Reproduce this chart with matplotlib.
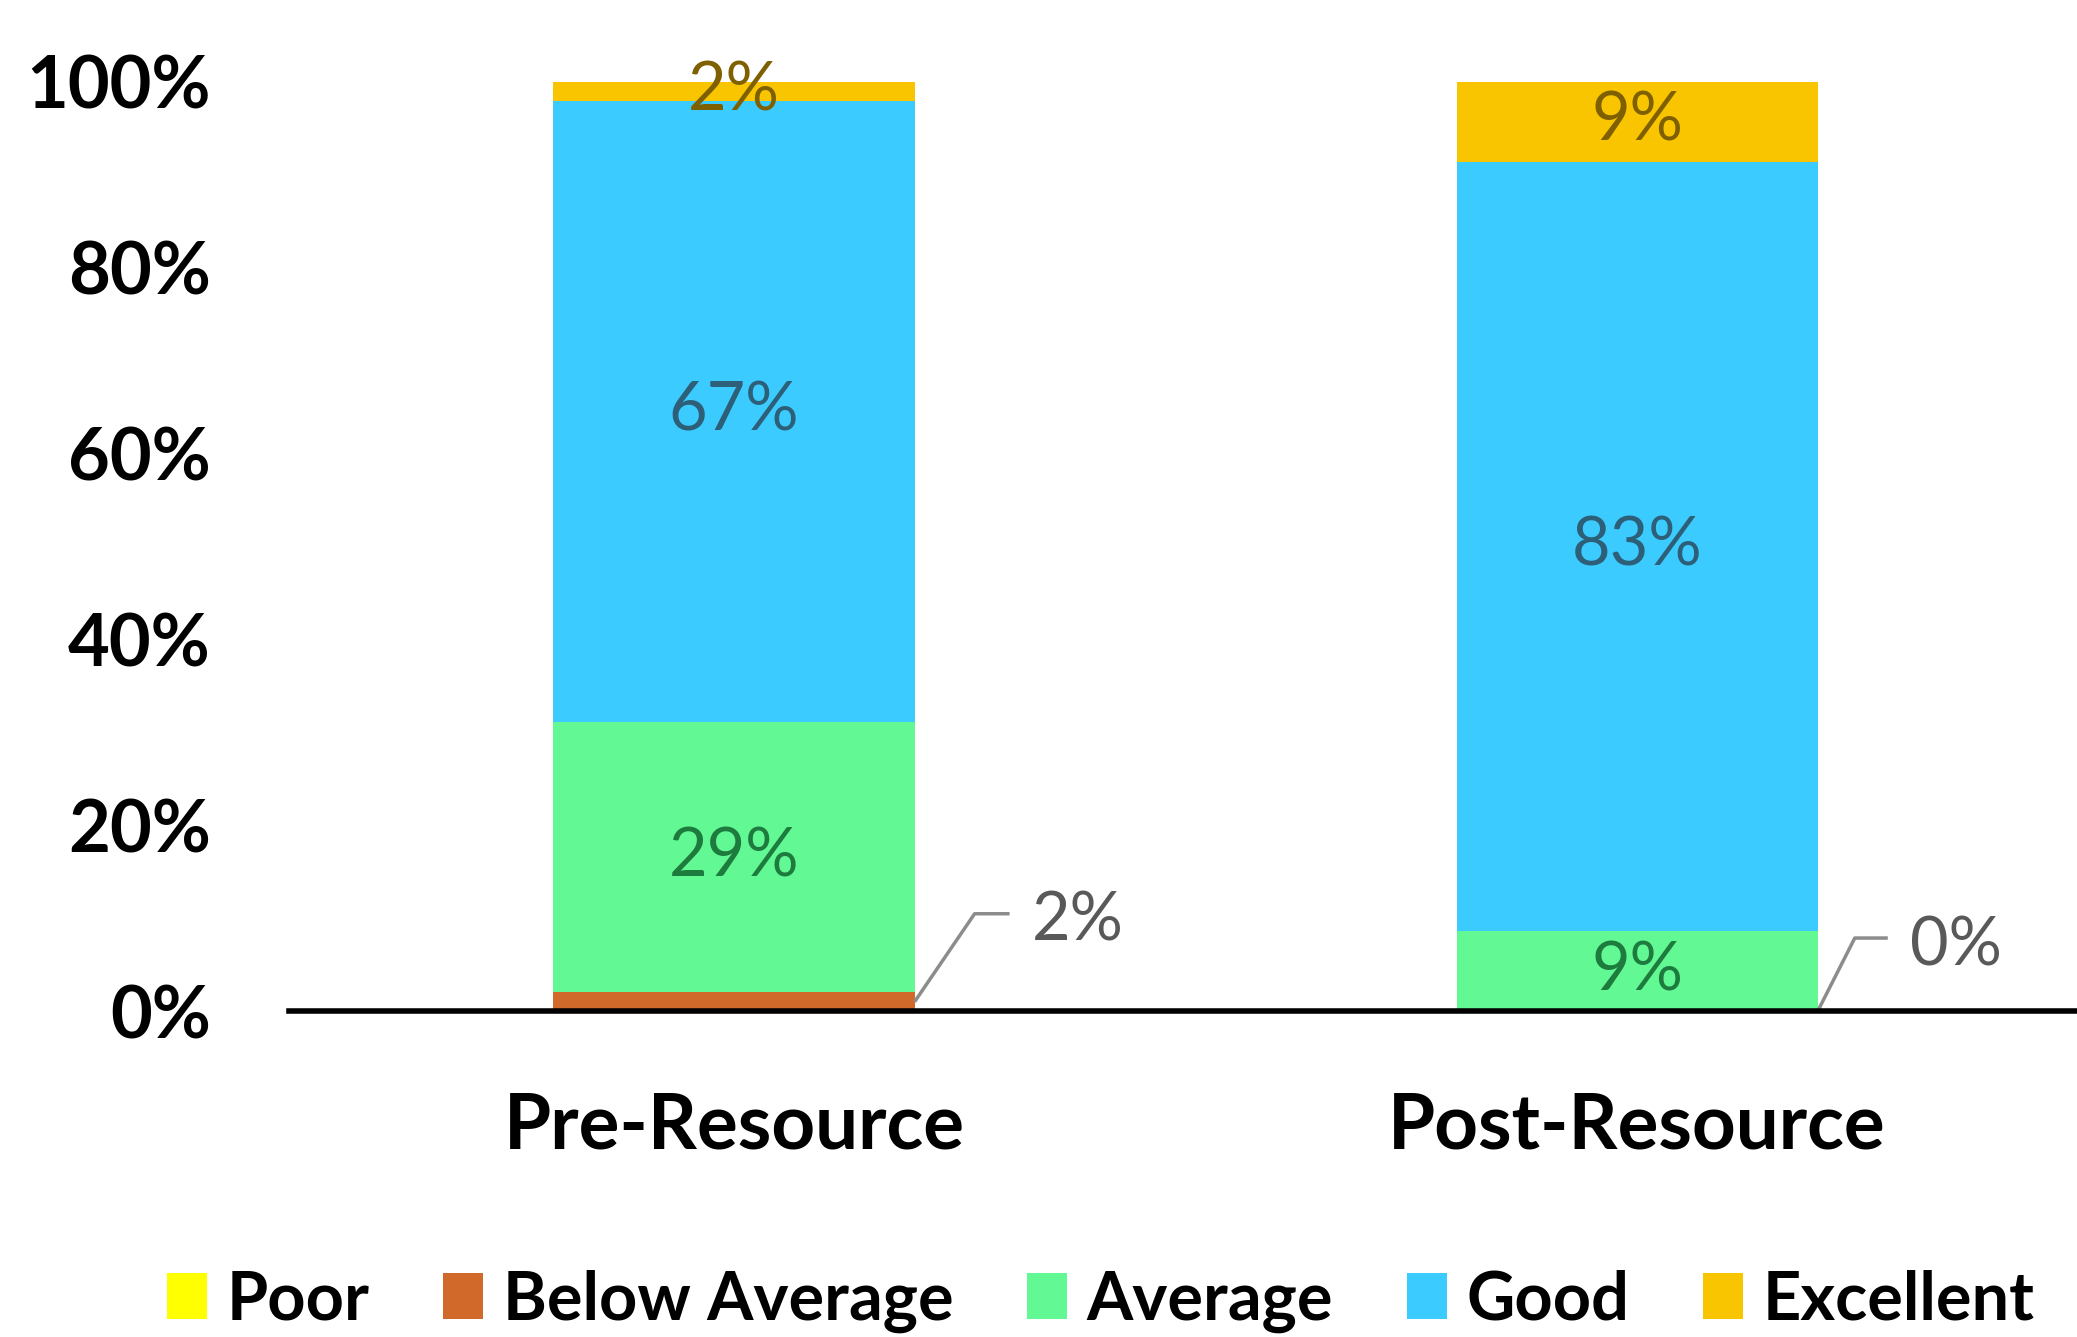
import numpy as np
import matplotlib
matplotlib.use('Agg')
from matplotlib import pyplot as plt

plt.rcParams['font.family'] = ['Lato', 'DejaVu Sans']

groups = ['Pre-Resource', 'Post-Resource']
ratings = ['Poor', 'Below Average', 'Average', 'Good', 'Excellent']
poor = [0.0, 0.0]
below_average = [2.0, 0.0]
average = [29.1, 8.6]
good = [66.9, 82.8]
excellent = [2.0, 8.6]
yticks = [0, 20, 40, 60, 80, 100]

colors = ['#FFFF00', '#D0692A', '#62F893', '#3CCBFF', '#F8C500']
label_colors = [None, None, '#1E7B3E', '#2D5F78', '#7F6000']
callout_color = '#595959'

fig = plt.figure(figsize=(20.77, 13.37), dpi=100)
ax = fig.add_axes([0.139, 0.2438, 0.861, 0.6949])
ax.set_xlim(-0.493, 1.487)
ax.set_ylim(0, 100)

x = np.arange(len(groups))
w = 0.4
series = [poor, below_average, average, good, excellent]
# leader line offsets in pixels (knee dx, dy, end dx) for the small callouts
offs = [(60, 88, 95), (37, 73, 70)]
bottom = np.zeros(len(groups))
for k, vals in enumerate(series):
    vals = np.array(vals)
    ax.bar(x, vals, w, bottom=bottom, color=colors[k], label=ratings[k],
           edgecolor='none', zorder=2)
    if label_colors[k] is not None:
        for i in range(len(groups)):
            ax.text(x[i], bottom[i] + vals[i] / 2, '{:.0f}%'.format(vals[i]),
                    ha='center', va='center', fontsize=48,
                    color=label_colors[k], zorder=4)
    elif ratings[k] == 'Below Average':
        for i in range(len(groups)):
            ax0 = x[i] + w / 2
            ay0 = bottom[i] + vals[i] / 2
            px0, py0 = ax.transData.transform((ax0, ay0))
            dx, dy, dx2 = offs[i]
            inv = ax.transData.inverted()
            p1 = inv.transform((px0 + dx, py0 + dy))
            p2 = inv.transform((px0 + dx2, py0 + dy))
            ax.plot([ax0, p1[0], p2[0]], [ay0, p1[1], p2[1]],
                    color='#8c8c8c', lw=2.5, zorder=3, clip_on=False,
                    solid_capstyle='butt')
            pt = inv.transform((px0 + dx2 + 22, py0 + dy - 8))
            ax.text(pt[0], pt[1], '{:.0f}%'.format(vals[i]), ha='left',
                    va='center', fontsize=48, color=callout_color, zorder=4)
    bottom += vals

ax.set_yticks(yticks)
ax.set_yticklabels(['{}%'.format(t) for t in yticks], fontsize=52,
                   fontweight='bold')
ax.set_xticks(x)
ax.set_xticklabels(groups, fontsize=55, fontweight='bold')
ax.tick_params(axis='y', length=0, pad=56)
ax.tick_params(axis='x', length=0, pad=58)
for s in ['top', 'right', 'left']:
    ax.spines[s].set_visible(False)
ax.spines['bottom'].set_linewidth(4)
ax.spines['bottom'].set_zorder(5)

leg = fig.legend(loc='center', bbox_to_anchor=(0.530, 0.027), ncol=5,
                 frameon=False, handlelength=0.6,
                 handleheight=0.7, handletextpad=0.3, columnspacing=1.1,
                 prop={'weight': 'bold', 'size': 48})

fig.savefig('out.png', dpi=100, facecolor='white')
